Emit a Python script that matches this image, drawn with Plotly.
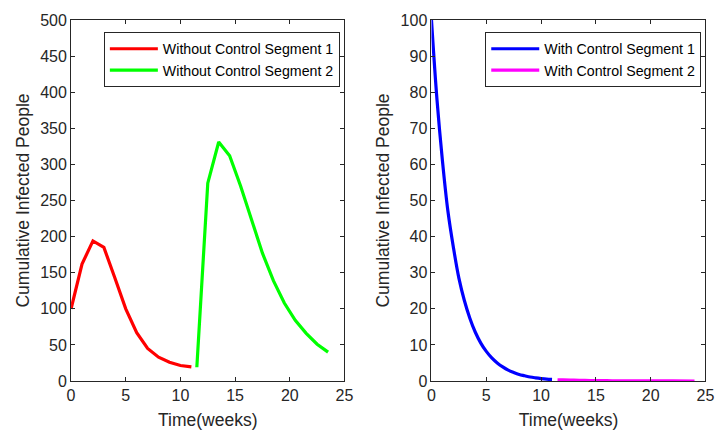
import plotly.graph_objects as go
from plotly.subplots import make_subplots

# Without control: two segments of weekly values
t_wo1 = [0, 1, 2, 3, 4, 5, 6, 7, 8, 9, 10, 11]
y_wo1 = [100, 162, 194, 185, 143, 100, 67, 45, 33, 26, 21.5, 19.5]

t_wo2 = [11.5, 12.5, 13.5, 14.5, 15.5, 16.5, 17.5, 18.5, 19.5, 20.5, 21.5, 22.5, 23.5]
y_wo2 = [19, 274, 331, 312, 270, 223, 177, 139, 108, 84, 66, 51, 40]

# With control: two segments
t_w1 = [0, 0.5, 1, 1.5, 2, 2.5, 3, 3.5, 4, 4.5, 5, 5.5, 6, 6.5, 7, 7.5, 8,
        8.5, 9, 9.5, 10, 10.5, 11]
y_w1 = [100, 78, 61, 47, 37, 28.5, 22.3, 17.4, 13.5, 10.5, 8.2, 6.4, 5.0, 3.9,
        3.0, 2.35, 1.8, 1.45, 1.1, 0.87, 0.68, 0.53, 0.45]

t_w2 = [11.5, 12, 13, 14, 15, 16, 17, 18, 19, 20, 22, 24]
y_w2 = [0.35, 0.3, 0.22, 0.16, 0.12, 0.09, 0.06, 0.045, 0.03, 0.02, 0.01, 0.005]

x_ticks = [0, 5, 10, 15, 20, 25]
y_ticks_left = list(range(0, 501, 50))
y_ticks_right = list(range(0, 101, 10))

FONT = "Arial, Liberation Sans, Helvetica, sans-serif"
AX = "#262626"

fig = make_subplots(rows=1, cols=2)

fig.add_trace(go.Scatter(x=t_wo1, y=y_wo1, mode="lines", name="Without Control Segment 1",
                         line=dict(color="#FF0000", width=3.2), legend="legend"), 1, 1)
fig.add_trace(go.Scatter(x=t_wo2, y=y_wo2, mode="lines", name="Without Control Segment 2",
                         line=dict(color="#00FF00", width=3.2), legend="legend"), 1, 1)
fig.add_trace(go.Scatter(x=t_w1, y=y_w1, mode="lines", name="With Control Segment 1",
                         line=dict(color="#0000FF", width=3.2, shape="spline"),
                         legend="legend2"), 1, 2)
fig.add_trace(go.Scatter(x=t_w2, y=y_w2, mode="lines", name="With Control Segment 2",
                         line=dict(color="#FF00FF", width=3.2, shape="spline"),
                         legend="legend2"), 1, 2)

axis_common = dict(
    showline=True, linecolor=AX, linewidth=1, mirror="ticks",
    ticks="inside", ticklen=4, tickwidth=1, tickcolor=AX,
    showgrid=False, zeroline=False,
    tickfont=dict(family=FONT, size=16, color=AX),
)

fig.update_xaxes(**axis_common, range=[0, 25], tickvals=x_ticks,
                 title=dict(text="Time(weeks)", font=dict(family=FONT, size=17.5, color=AX),
                            standoff=10))
fig.update_yaxes(**axis_common,
                 title=dict(text="Cumulative Infected People",
                            font=dict(family=FONT, size=17.5, color=AX), standoff=6))
fig.update_yaxes(range=[0, 500], tickvals=y_ticks_left, row=1, col=1)
fig.update_yaxes(range=[0, 100], tickvals=y_ticks_right, row=1, col=2)

legend_style = dict(
    yanchor="top", xanchor="right", y=1 - 12 / 361,
    bgcolor="white", bordercolor=AX, borderwidth=1,
    font=dict(family=FONT, size=14.2, color="#000000"),
    itemwidth=48, tracegroupgap=0,
)

fig.update_layout(
    width=724, height=430,
    margin=dict(l=0, r=0, t=20, b=49),
    paper_bgcolor="white", plot_bgcolor="white",
    xaxis=dict(domain=[68.3 / 724, 346.7 / 724]),
    xaxis2=dict(domain=[435.3 / 724, 714.3 / 724]),
    legend=dict(x=342 / 724, **legend_style),
    legend2=dict(x=710 / 724, **legend_style),
)

fig.write_html("out.html")
